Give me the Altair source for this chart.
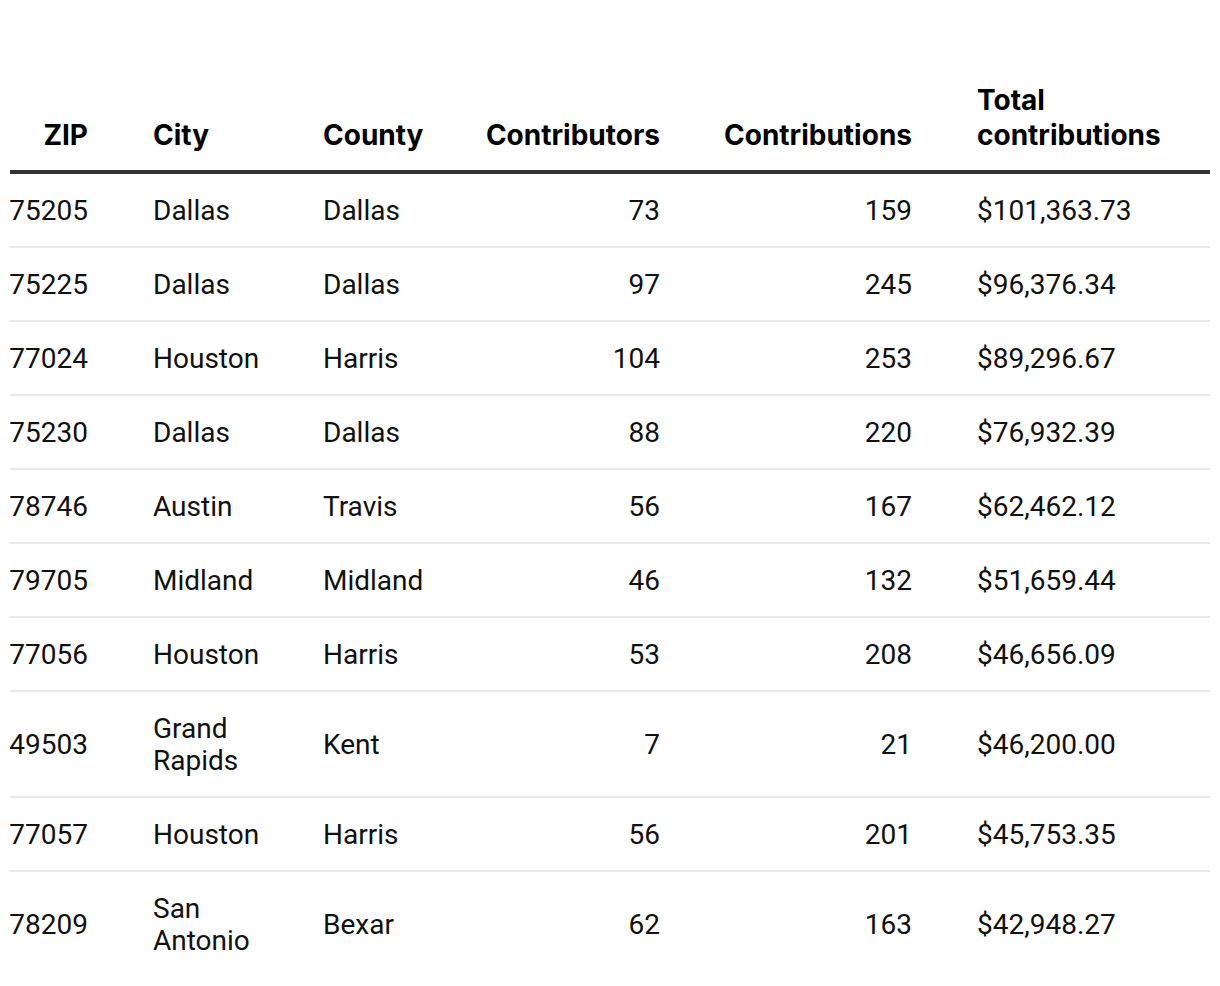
import altair as alt
import pandas as pd

# ---- data ----
zips = ["75205", "75225", "77024", "75230", "78746", "79705", "77056", "49503", "77057", "78209"]
cities = ["Dallas", "Dallas", "Houston", "Dallas", "Austin", "Midland", "Houston", "Grand\nRapids", "Houston", "San\nAntonio"]
counties = ["Dallas", "Dallas", "Harris", "Dallas", "Travis", "Midland", "Harris", "Kent", "Harris", "Bexar"]
contributors = [73, 97, 104, 88, 56, 46, 53, 7, 56, 62]
contributions = [159, 245, 253, 220, 167, 132, 208, 21, 201, 163]
totals = [101363.73, 96376.34, 89296.67, 76932.39, 62462.12, 51659.44, 46656.09, 46200.00, 45753.35, 42948.27]

columns = ["ZIP", "City", "County", "Contributors", "Contributions", "Total contributions"]
headers = ["ZIP", "City", "County", "Contributors", "Contributions", "Total\ncontributions"]
right_cols = ["ZIP", "Contributors", "Contributions"]

# ---- layout (table geometry) ----
W, H = 1200, 970
anchor_px = [78, 143, 313, 650, 902, 967]  # column anchors in plot px
FONT = "Roboto"
HFONT = "Inter"
FS = 28
LH = 32
HLH = 35

header_line = 164
header_base = 137
row_tops = []
row_centers = []
top = header_line + 1
for c in cities:
    n = c.count("\n") + 1
    h = 42 + LH * n
    row_tops.append(top)
    row_centers.append(top + h / 2 + 2)
    top += h

def fmt_money(v):
    return "${:,.2f}".format(v)

cells = []
for i in range(len(zips)):
    vals = [zips[i], cities[i], counties[i], str(contributors[i]), str(contributions[i]), fmt_money(totals[i])]
    for j, (col, v) in enumerate(zip(columns, vals)):
        n = v.count("\n") + 1
        cells.append({"ci": j, "text": v, "y": row_centers[i] - (n - 1) * LH / 2,
                      "side": "right" if col in right_cols else "left"})
cells = pd.DataFrame(cells)

hdr = pd.DataFrame({
    "ci": list(range(len(columns))),
    "text": headers,
    "y": [header_base - (h.count("\n")) * HLH for h in headers],
    "side": ["right" if c in right_cols else "left" for c in columns],
})

seps = pd.DataFrame({"y": row_tops[1:]})
thick = pd.DataFrame({"y": [header_line]})

xscale = alt.Scale(domain=list(range(len(columns))), range=anchor_px, nice=False, zero=False)
yscale = alt.Scale(domain=[0, H], reverse=True, nice=False, zero=False)

def text_layer(df, side, bold):
    return alt.Chart(df[df["side"] == side]).mark_text(
        align=side, baseline="alphabetic" if bold else "middle",
        font=HFONT if bold else FONT, fontSize=FS, fontWeight="bold" if bold else "normal",
        color="#000" if bold else "#111", lineBreak="\n",
        lineHeight=HLH if bold else LH,
    ).encode(
        x=alt.X("ci:Q", scale=xscale, axis=None),
        y=alt.Y("y:Q", scale=yscale, axis=None),
        text="text:N",
    )

sep_rules = alt.Chart(seps).mark_rule(color="#e8e8e8", strokeWidth=2).encode(
    y=alt.Y("y:Q", scale=yscale, axis=None), x=alt.value(0), x2=alt.value(W)
)
head_rule = alt.Chart(thick).mark_rule(color="#333333", strokeWidth=4).encode(
    y=alt.Y("y:Q", scale=yscale, axis=None), x=alt.value(0), x2=alt.value(W)
)

chart = alt.layer(
    sep_rules, head_rule,
    text_layer(cells, "left", False), text_layer(cells, "right", False),
    text_layer(hdr, "left", True), text_layer(hdr, "right", True),
).properties(
    width=W, height=H,
    autosize=alt.AutoSizeParams(type="none"),
    padding={"left": 2, "top": 0, "right": 0, "bottom": 0},
).configure(background="white").configure_view(strokeWidth=0)

chart.save("out.html", embed_options={"renderer": "svg", "actions": False})
